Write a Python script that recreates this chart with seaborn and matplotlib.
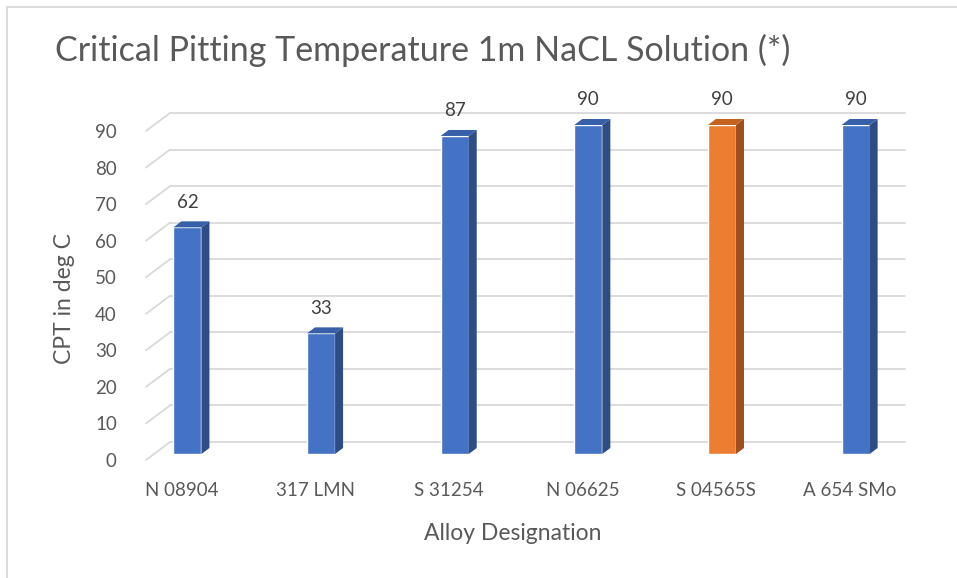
import seaborn as sns
import matplotlib.pyplot as plt
import matplotlib.transforms as mtransforms
from matplotlib.patches import Polygon
from matplotlib.lines import Line2D
import pandas as pd

# data
alloys = ["N 08904", "317 LMN", "S 31254", "N 06625", "S 04565S", "A 654 SMo"]
cpt = [62, 33, 87, 90, 90, 90]
bar_colors = ["#4472C4", "#4472C4", "#4472C4", "#4472C4", "#ED7D31", "#4472C4"]
side_colors = {"#4472C4": "#2E4D85", "#ED7D31": "#9E4F1C"}
top_colors = {"#4472C4": "#3760A8", "#ED7D31": "#C4621F"}
yticks = list(range(0, 100, 10))

df = pd.DataFrame({"Alloy": alloys, "CPT": cpt})

sns.set_theme(style="white")
plt.rcParams["font.family"] = ["Lato", "DejaVu Sans"]

W, H = 957, 578
fig = plt.figure(figsize=(W / 100, H / 100), dpi=100)
# axes placed so that the bar plane sits where Excel drew it
ax = fig.add_axes([154 / W, 124 / H, 735 / W, 329 / H])

sns.barplot(data=df, x="Alloy", y="CPT", hue="Alloy", palette=bar_colors,
            width=0.21, legend=False, ax=ax, saturation=1, zorder=3)
ax.set_xlim(-0.25, 5.25)
ax.set_ylim(0, 90)
for s in ax.spines.values():
    s.set_visible(False)

# depth offsets (pixels): bar plane -> back wall, bar plane -> front edge
back = mtransforms.ScaledTranslation(16 / 100, 12 / 100, fig.dpi_scale_trans)
front = mtransforms.ScaledTranslation(-8 / 100, -6 / 100, fig.dpi_scale_trans)
blend = mtransforms.blended_transform_factory(ax.transAxes, ax.transData)

grid_kw = dict(color="#D9D9D9", lw=1.3, clip_on=False, zorder=1)
for v in yticks:
    ax.add_line(Line2D([0, 1], [v, v], transform=blend + back, **grid_kw))
    # left wall diagonal
    p0 = (blend + front).transform((0, v))
    p1 = (blend + back).transform((0, v))
    ax.add_line(Line2D([p0[0], p1[0]], [p0[1], p1[1]], transform=None, **grid_kw))

# fake 3D: side and top faces of every bar
inv = ax.transData.inverted()
dx, dy = 8, 6
for cont in ax.containers:
    for p in cont.patches:
        x0, w, h = p.get_x(), p.get_width(), p.get_height()
        fc = p.get_facecolor()
        hexc = "#%02X%02X%02X" % tuple(int(round(c * 255)) for c in fc[:3])
        br = ax.transData.transform((x0 + w, 0))
        tl = ax.transData.transform((x0, h))
        tr = ax.transData.transform((x0 + w, h))
        side = [br, tr, tr + (dx, dy), br + (dx, dy)]
        top = [tl, tr, tr + (dx, dy), tl + (dx, dy)]
        ax.add_patch(Polygon(inv.transform(side), closed=True, fc=side_colors.get(hexc, "#2E4D85"),
                             ec="none", zorder=3, clip_on=False))
        ax.add_patch(Polygon(inv.transform(top), closed=True, fc=top_colors.get(hexc, "#3760A8"),
                             ec="none", zorder=3, clip_on=False))
    ax.bar_label(cont, padding=12, fontsize=13.5, color="#404040")

ax.set_yticks(yticks)
ax.tick_params(axis="y", length=0, pad=21, labelsize=13.5, labelcolor="#595959")
ax.tick_params(axis="x", length=0, pad=20, labelsize=13.5, labelcolor="#595959")
for lab in ax.get_yticklabels():
    lab.set_transform(lab.get_transform() + front)
shiftx = mtransforms.ScaledTranslation(-6 / 100, 0, fig.dpi_scale_trans)
for lab in ax.get_xticklabels():
    lab.set_transform(lab.get_transform() + shiftx)

ax.set_ylabel("CPT in deg C", fontsize=16.5, color="#595959")
ax.yaxis.set_label_coords(-0.1075, 0.471)
ax.set_xlabel("Alloy Designation", fontsize=16.5, color="#595959")
ax.xaxis.set_label_coords(0.488, -0.21)

fig.text(55 / W, 1 - 50 / H, "Critical Pitting Temperature 1m NaCL Solution (*)",
         fontsize=24.5, color="#595959", va="center", ha="left")

# chart area border
fig.add_artist(Line2D([6.5 / W, 6.5 / W], [0, 1 - 6.5 / H], transform=fig.transFigure,
                      color="#D9D9D9", lw=1.3))
fig.add_artist(Line2D([6.5 / W, 1], [1 - 6.5 / H, 1 - 6.5 / H], transform=fig.transFigure,
                      color="#D9D9D9", lw=1.3))

fig.savefig("out.png", dpi=100)
